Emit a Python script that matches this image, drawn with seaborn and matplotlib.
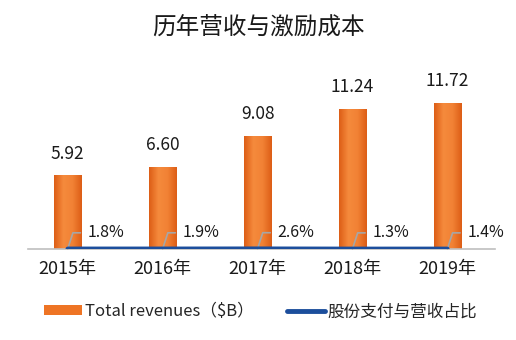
import numpy as np
import pandas as pd
import matplotlib
matplotlib.use("Agg")
import matplotlib.pyplot as plt
from matplotlib.colors import LinearSegmentedColormap
from matplotlib.patches import Patch
from matplotlib.lines import Line2D
import seaborn as sns

years = ["2015年", "2016年", "2017年", "2018年", "2019年"]
revenues = [5.92, 6.60, 9.08, 11.24, 11.72]
share_pct = [1.8, 1.9, 2.6, 1.3, 1.4]
title = "历年营收与激励成本"
bar_label_name = "Total revenues（$B）"
line_label_name = "股份支付与营收占比"

sns.set_theme(style="white")
plt.rcParams['font.family'] = ['Noto Sans CJK SC', 'DejaVu Sans']

ORANGE = "#EE7424"
BLUE = "#1C4E9C"

df = pd.DataFrame({"year": years, "rev": revenues, "pct": share_pct})
df["frac"] = df["pct"] / 100.0
df["pos"] = np.arange(len(df))

fig = plt.figure(figsize=(5.16, 3.40), dpi=100)
ax = fig.add_axes([0.054, 0.2676, 0.905, 0.55])

sns.barplot(data=df, x="year", y="rev", color=ORANGE, width=0.29,
            saturation=1, ax=ax, edgecolor="none")

cmap = LinearSegmentedColormap.from_list("og", ["#DD5E16", "#F58A3C", "#F28235", "#DD5E16"])
grad = np.linspace(0, 1, 64).reshape(1, -1)
for p in ax.patches:
    x0, y0 = p.get_x(), p.get_y()
    w, h = p.get_width(), p.get_height()
    im = ax.imshow(grad, cmap=cmap, extent=(x0, x0 + w, y0, y0 + h),
                   aspect="auto", zorder=p.get_zorder() + 0.1)
    im.set_clip_path(p)

ax.bar_label(ax.containers[0], fmt="%.2f", padding=9, fontsize=12.5, color="#1a1a1a")

sns.lineplot(data=df, x="pos", y="frac", color=BLUE, linewidth=3.2, ax=ax,
             zorder=5, legend=False)

for _, r in df.iterrows():
    ax.annotate(f"{r['pct']:.1f}%", xy=(r["pos"], r["frac"]), xytext=(14.5, 11.5),
                textcoords="offset points", ha="left", va="center", fontsize=11.5,
                color="#1a1a1a",
                arrowprops=dict(arrowstyle="-", color="#A6A6A6", lw=1.2,
                                connectionstyle="angle,angleA=0,angleB=72,rad=0",
                                shrinkA=3, shrinkB=0))

ax.set_xlim(-0.42, 4.5)
ax.set_ylim(0, 15)
ax.set_xlabel("")
ax.set_ylabel("")
ax.set_yticks([])
ax.tick_params(axis="x", length=0, pad=8, labelsize=13, labelcolor="#1a1a1a")
for s in ["left", "top", "right"]:
    ax.spines[s].set_visible(False)
ax.spines["bottom"].set_color("#BFBFBF")
ax.spines["bottom"].set_linewidth(1.2)

fig.suptitle(title, x=0.5, y=0.95, fontsize=17, color="#1a1a1a")

handles = [Patch(facecolor=ORANGE, edgecolor="none"),
           Line2D([0], [0], color=BLUE, lw=3.5, solid_capstyle="round")]
fig.legend(handles, [bar_label_name, line_label_name], loc="center",
           bbox_to_anchor=(0.505, 0.083), ncol=2, frameon=False, fontsize=12,
           handlelength=2.3, handleheight=0.55, handletextpad=0.15, columnspacing=2.0)

fig.savefig("out.png", dpi=100)
